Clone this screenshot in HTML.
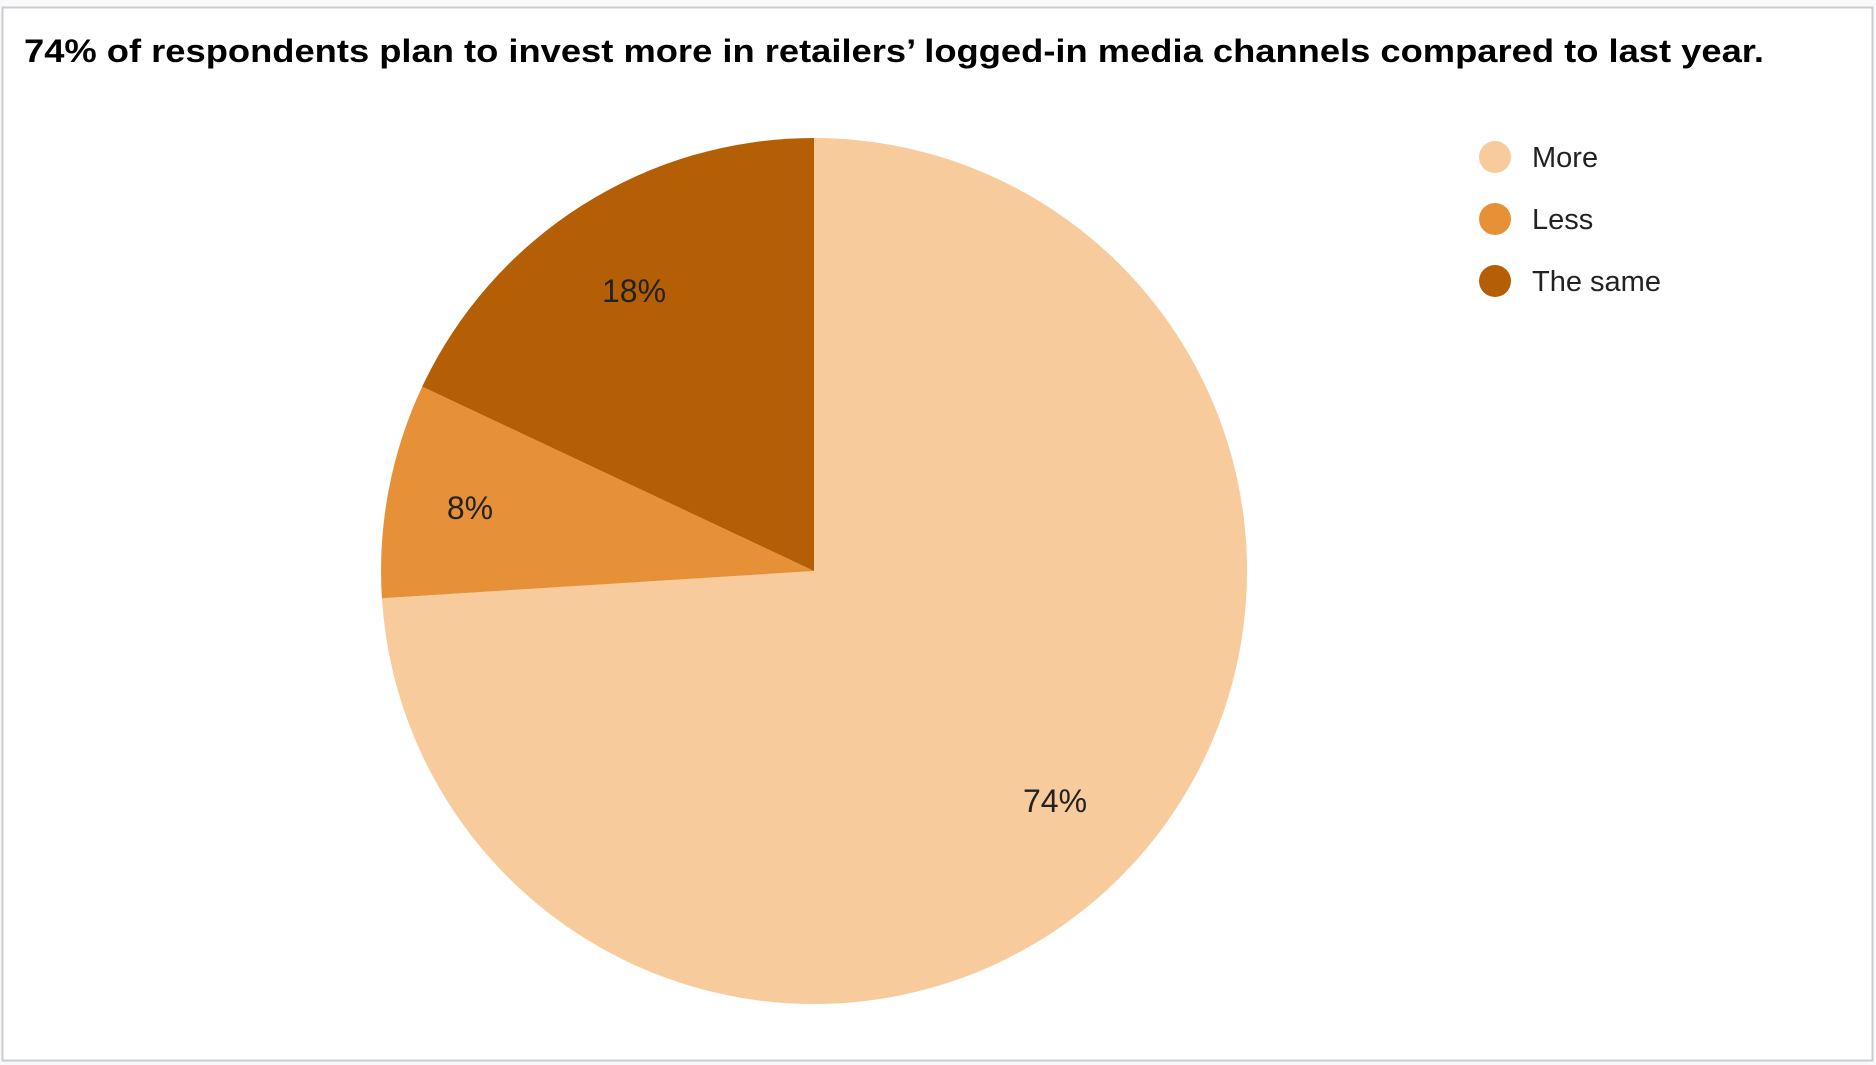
<!DOCTYPE html>
<html><head><meta charset="utf-8"><style>
html,body{margin:0;padding:0;background:#fff;}
svg{display:block;}
</style></head><body>
<svg width="1876" height="1065" viewBox="0 0 1876 1065" xmlns="http://www.w3.org/2000/svg">
<rect x="0" y="0" width="1876" height="1065" fill="#f7f9fb"/>
<rect x="2.5" y="7.5" width="1870" height="1053" fill="#fff" stroke="#cccccc" stroke-width="2"/>
<text x="24" y="62" font-family="Liberation Sans, sans-serif" font-weight="bold" font-size="32" fill="#000" textLength="1740" lengthAdjust="spacingAndGlyphs">74% of respondents plan to invest more in retailers’ logged-in media channels compared to last year.</text>
<path d="M814,571 L814,138 A433,433 0 1,1 381.9,598.2 Z" fill="#f8cb9c"/>
<path d="M814,571 L381.9,598.2 A433,433 0 0,1 422.2,386.6 Z" fill="#e69138"/>
<path d="M814,571 L422.2,386.6 A433,433 0 0,1 814,138 Z" fill="#b45f06"/>
<g font-family="Liberation Sans, sans-serif" font-size="32" fill="#222" text-anchor="middle">
<text x="634" y="302">18%</text>
<text x="470" y="519">8%</text>
<text x="1055" y="812">74%</text>
</g>
<circle cx="1495" cy="157" r="16" fill="#f8cb9c"/>
<circle cx="1495" cy="219" r="16" fill="#e69138"/>
<circle cx="1495" cy="281" r="16" fill="#b45f06"/>
<g font-family="Liberation Sans, sans-serif" font-size="29" fill="#222">
<text x="1532" y="167">More</text>
<text x="1532" y="229">Less</text>
<text x="1532" y="291">The same</text>
</g>
</svg>
</body></html>
